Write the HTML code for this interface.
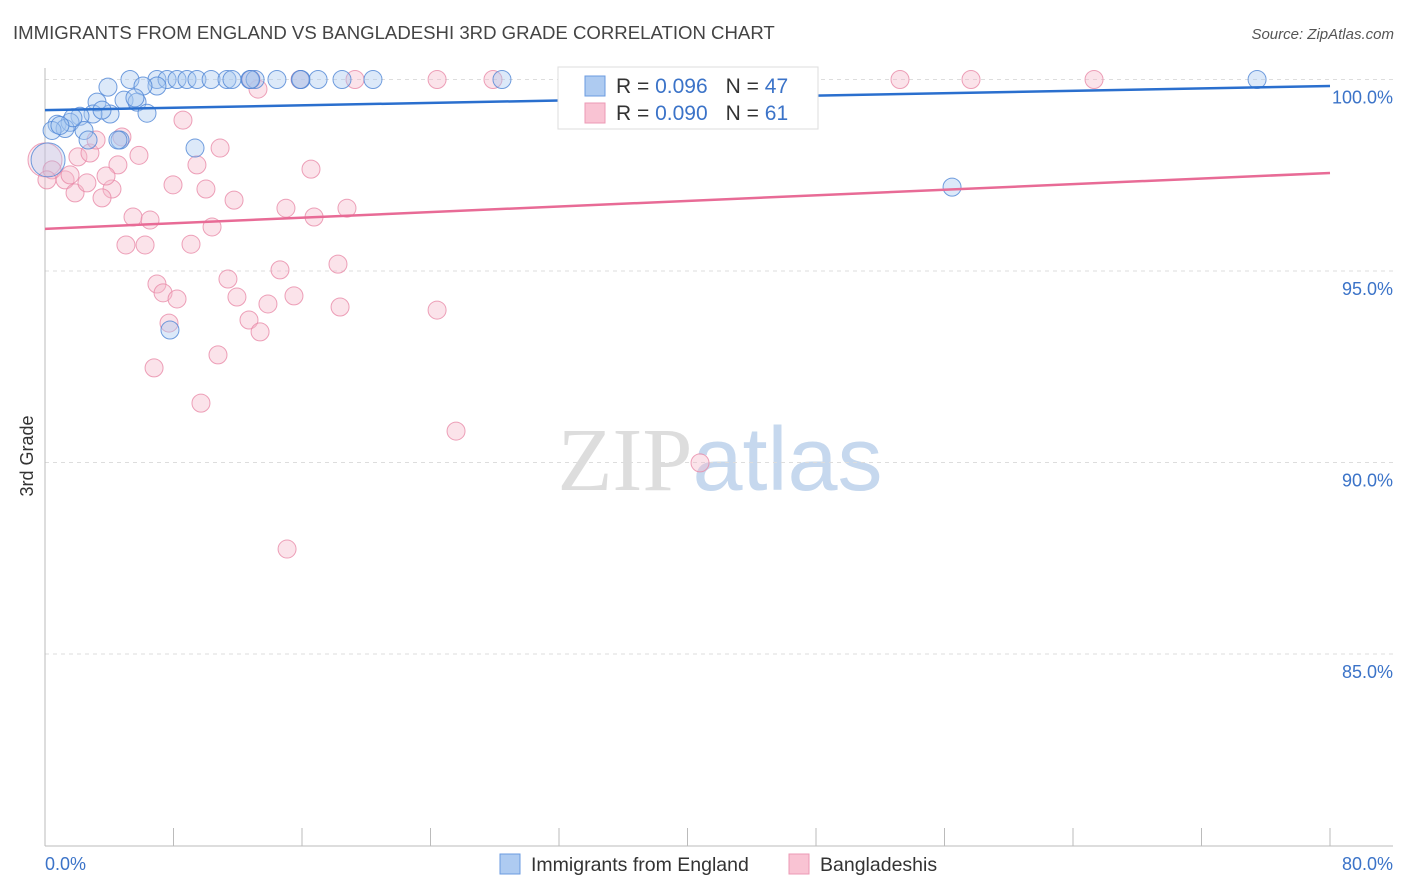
<!DOCTYPE html>
<html><head><meta charset="utf-8"><style>
body{margin:0;background:#fff;font-family:"Liberation Sans",sans-serif}
svg{display:block}
</style></head><body>
<svg id="chart" width="1406" height="892" xmlns="http://www.w3.org/2000/svg">
<text x="13" y="39" font-size="18.6" fill="#444">IMMIGRANTS FROM ENGLAND VS BANGLADESHI 3RD GRADE CORRELATION CHART</text>
<text x="1394" y="39" font-size="15" fill="#555" text-anchor="end" font-style="italic">Source: ZipAtlas.com</text>
<text x="720" y="490" font-size="90" text-anchor="middle" fill="#ddd" font-family="Liberation Serif,serif">ZIP<tspan fill="#c6d8ee" font-family="Liberation Sans,sans-serif">atlas</tspan></text>
<text transform="translate(33,456) rotate(-90)" font-size="18" fill="#333" text-anchor="middle">3rd Grade</text>
<g id="grid"></g><g id="axes"></g><g id="marks"></g>
<g>
<rect x="558" y="67" width="260" height="62" fill="#fff" stroke="#ddd"/>
<rect x="585" y="76" width="20" height="20" fill="#aecbf1" stroke="#6b9be0"/>
<text x="616" y="93" font-size="21" fill="#333">R = <tspan fill="#3b73c8">0.096</tspan><tspan dx="18">N = </tspan><tspan fill="#3b73c8">47</tspan></text>
<rect x="585" y="103" width="20" height="20" fill="#f9c3d3" stroke="#ec9ab4"/>
<text x="616" y="120" font-size="21" fill="#333">R = <tspan fill="#3b73c8">0.090</tspan><tspan dx="18">N = </tspan><tspan fill="#3b73c8"> 61</tspan></text>
</g>
<g>
<rect x="500" y="854" width="20" height="20" fill="#aecbf1" stroke="#6b9be0"/>
<text x="531" y="871" font-size="19.5" fill="#333">Immigrants from England</text>
<rect x="789" y="854" width="20" height="20" fill="#f9c3d3" stroke="#ec9ab4"/>
<text x="820" y="871" font-size="19.5" fill="#333">Bangladeshis</text>
</g>
</svg>
<script>
const yTicks=[100,95,90,85];
const xTickLabels=["0.0%","80.0%"];
const blueX=[5.29,6.97,7.60,8.22,8.84,9.46,10.34,11.33,11.64,12.76,13.08,14.44,15.94,17.0,18.49,20.42,28.45,33.0,75.46,3.92,6.97,6.10,3.24,4.92,5.73,5.60,4.05,2.99,3.55,6.35,2.18,0.75,1.56,1.25,0.44,2.43,2.68,4.67,4.54,9.34,7.78,56.47,0.19,1.74,0.93,12.8,15.9];
const blueY=[100,100,100,100,100,100,100,100,100,100,100,100,100,100,100,100,100,100,100,99.80,99.83,99.83,99.41,99.46,99.41,99.52,99.10,99.10,99.2,99.12,99.04,98.83,98.88,98.72,98.67,98.67,98.42,98.42,98.42,98.21,93.46,97.19,97.9,99.0,98.8,100,100];
const pinkX=[0,0.44,0.12,1.25,1.56,1.87,2.61,2.05,2.80,3.18,4.17,3.55,4.54,3.80,4.79,5.04,5.85,5.48,6.23,6.54,6.97,7.35,7.72,6.79,8.22,7.97,8.59,9.09,9.46,10.02,9.71,10.40,10.90,10.77,11.39,11.77,11.95,12.70,13.39,13.26,13.88,14.63,15.0,15.07,15.50,16.56,16.75,18.24,18.37,18.80,24.41,25.59,40.78,12.83,15.88,19.30,24.41,27.89,53.23,57.65,65.31];
const pinkY=[97.9,97.64,97.38,97.38,97.51,97.04,97.30,97.98,98.08,98.42,97.14,96.91,97.77,97.48,98.50,95.68,98.02,96.41,95.68,96.33,94.66,94.43,93.64,92.47,94.27,97.25,98.94,95.70,97.77,97.14,91.55,96.15,98.21,92.81,94.79,96.85,94.32,93.72,93.41,99.75,94.14,95.03,96.64,87.74,94.35,97.66,96.41,95.18,94.06,96.64,93.98,90.82,89.99,100,100,100,100,100,100,100,100];
const blueTrend=[99.20,99.83];
const pinkTrend=[96.10,97.56];
const X0=45,X1=1330,Y100=79.5,PX5=191.5;
function sx(v){return X0+(v/80)*(X1-X0);}
function sy(v){return Y100+(100-v)/5*PX5;}
const NS="http://www.w3.org/2000/svg";
function mk(tag,attrs,parent){const e=document.createElementNS(NS,tag);for(const k in attrs)e.setAttribute(k,attrs[k]);parent.appendChild(e);return e;}
const grid=document.getElementById('grid'),axes=document.getElementById('axes'),marks=document.getElementById('marks');
yTicks.forEach(t=>{
 const l=mk('line',{x1:X0,x2:1393,y1:sy(t),y2:sy(t),stroke:'#ddd','stroke-dasharray':'4,4'},grid);
 
 
 const tx=mk('text',{x:1393,y:sy(t)+24,'font-size':18,fill:'#3b73c8','text-anchor':'end'},axes);
 tx.textContent=t.toFixed(1)+'%';
 
 
});
const ax=mk('line',{x1:X0,x2:X0,y1:68,y2:846,stroke:'#bbb'},axes);


const bx=mk('line',{x1:X0,x2:1393,y1:846,y2:846,stroke:'#bbb'},axes);


for(let i=0;i<=10;i++){const v=i*8;const t=mk('line',{x1:sx(v),x2:sx(v),y1:828,y2:846,stroke:'#bbb'},axes);
 
 }
xTickLabels.forEach((s,i)=>{const t=mk('text',{x:i?1393:45,y:870,'font-size':18,fill:'#3b73c8','text-anchor':i?'end':'start'},axes);t.textContent=s;
 
 });
function pts(xs,ys,fill,stroke,name){xs.forEach((x,i)=>{
 const big=(x<0.3&&Math.abs(ys[i]-97.9)<0.01);
 const c=mk('circle',{cx:sx(x),cy:sy(ys[i]),r:big?17:9,fill:fill,'fill-opacity':big?0.3:0.4,stroke:stroke,'stroke-opacity':0.8,'stroke-width':1},marks);
 
 });}
pts(pinkX,pinkY,'#f6b8cb','#e88aa8','bangladeshi-point');
pts(blueX,blueY,'#a8c8f0','#4f86d6','england-point');
const bl=mk('line',{x1:sx(0),y1:sy(blueTrend[0]),x2:sx(80),y2:sy(blueTrend[1]),stroke:'#2a6fce','stroke-width':2.5},marks);


const pl=mk('line',{x1:sx(0),y1:sy(pinkTrend[0]),x2:sx(80),y2:sy(pinkTrend[1]),stroke:'#e86b96','stroke-width':2.5},marks);


</script>
</body></html>
